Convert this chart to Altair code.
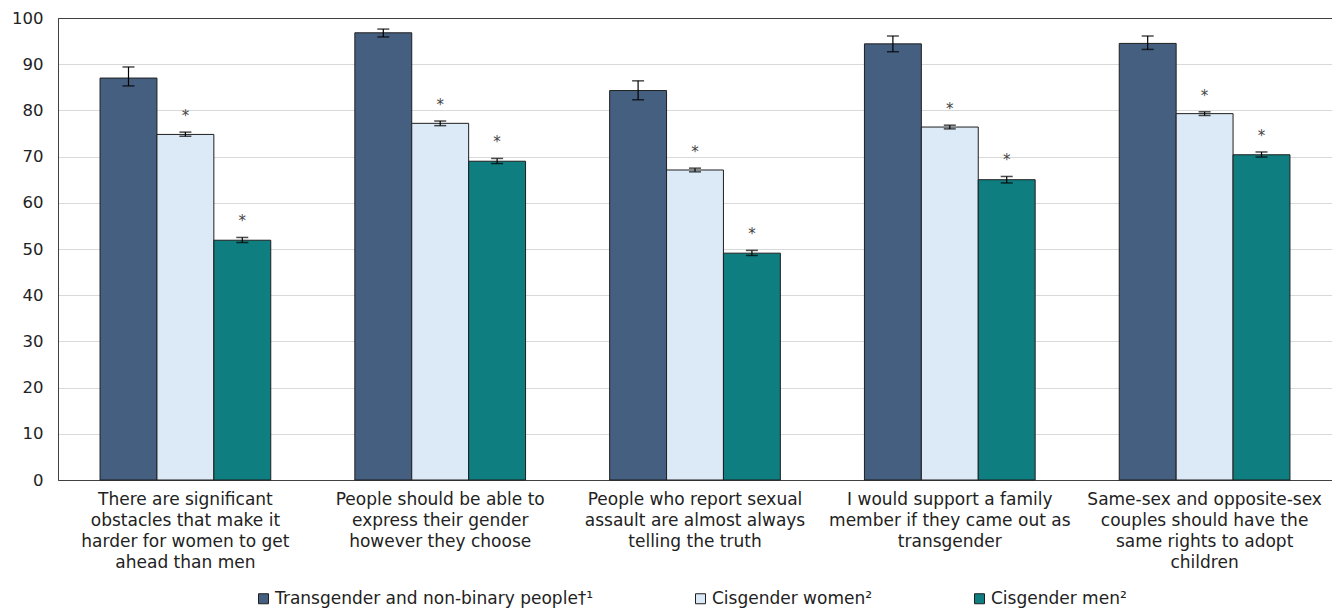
import altair as alt
import pandas as pd

categories = [
    "There are significant|obstacles that make it|harder for women to get|ahead than men",
    "People should be able to|express their gender|however they choose",
    "People who report sexual|assault are almost always|telling the truth",
    "I would support a family|member if they came out as|transgender",
    "Same-sex and opposite-sex|couples should have the|same rights to adopt|children",
]
groups = ["Transgender and non-binary people\u2020\u00b9", "Cisgender women\u00b2", "Cisgender men\u00b2"]
colors = ["#455f80", "#dce9f6", "#0f7e80"]

trans = [87.0, 96.8, 84.3, 94.4, 94.5]
trans_lo = [85.3, 95.9, 82.3, 92.7, 93.2]
trans_hi = [89.4, 97.6, 86.4, 96.1, 96.1]
women = [74.8, 77.2, 67.1, 76.4, 79.3]
women_lo = [74.4, 76.7, 66.7, 76.0, 78.9]
women_hi = [75.3, 77.7, 67.5, 76.8, 79.7]
men = [51.9, 69.0, 49.1, 65.0, 70.4]
men_lo = [51.4, 68.5, 48.6, 64.3, 69.9]
men_hi = [52.5, 69.6, 49.7, 65.7, 71.0]
significant = ["", "*", "*"]

rows = []
series = [(trans, trans_lo, trans_hi), (women, women_lo, women_hi), (men, men_lo, men_hi)]
for gi, (vals, los, his) in enumerate(series):
    for ci, cat in enumerate(categories):
        rows.append({"cat": cat, "group": groups[gi], "value": vals[ci],
                     "lo": los[ci], "hi": his[ci], "sig": significant[gi]})
df = pd.DataFrame(rows)

FONT = "DejaVu Sans"
FS = 17

x = alt.X("cat:N", sort=categories, title=None,
          scale=alt.Scale(paddingInner=0.33, paddingOuter=0.165),
          axis=alt.Axis(labelExpr="split(datum.value, '|')", labelAngle=0,
                        labelFontSize=FS, labelLineHeight=21, labelPadding=11,
                        ticks=False, domainColor="#404040", labelColor="#222222",
                        labelFont=FONT, labelLimit=400))
xo = alt.XOffset("group:N", sort=groups, scale=alt.Scale(paddingInner=0, paddingOuter=0))
yscale = alt.Scale(domain=[0, 100])

base = alt.Chart(df)

bars = base.mark_bar(stroke="#1f1f1f", strokeWidth=1).encode(
    x=x, xOffset=xo,
    y=alt.Y("value:Q", scale=yscale, title=None,
            axis=alt.Axis(values=list(range(0, 101, 10)), ticks=False, labelFontSize=16.5,
                          labelPadding=15, labelColor="#222222", labelFont=FONT,
                          domainColor="#404040",
                          gridColor={"condition": {"test": "datum.value === 100", "value": "#404040"},
                                     "value": "#d9d9d9"})),
    color=alt.Color("group:N", sort=groups, scale=alt.Scale(domain=groups, range=colors),
                    legend=alt.Legend(title=None, orient="none", direction="horizontal",
                                      legendX=197, legendY=572, symbolType="square",
                                      symbolSize=100, symbolStrokeColor="#1f1f1f",
                                      symbolStrokeWidth=1, labelFontSize=17, labelFont=FONT,
                                      labelColor="#222222", columnPadding=98, labelOffset=3,
                                      labelLimit=600)),
)

rules = base.mark_rule(color="#000000", strokeWidth=1.2).encode(
    x=x, xOffset=xo, y=alt.Y("lo:Q", scale=yscale), y2="hi:Q")
caps_lo = base.mark_tick(color="#000000", thickness=1.5, size=12).encode(
    x=x, xOffset=xo, y=alt.Y("lo:Q", scale=yscale))
caps_hi = base.mark_tick(color="#000000", thickness=1.5, size=12).encode(
    x=x, xOffset=xo, y=alt.Y("hi:Q", scale=yscale))
stars = base.mark_text(dy=-16, fontSize=15, font=FONT, color="#444444").encode(
    x=x, xOffset=xo, y=alt.Y("hi:Q", scale=yscale), text="sig:N")

chart = alt.layer(bars, rules, caps_lo, caps_hi, stars).properties(
    width=1274, height=462,
    autosize=alt.AutoSizeParams(type="none"),
    padding={"left": 58, "top": 18, "right": 0, "bottom": 128},
).configure_view(stroke="#404040", strokeWidth=1).configure_axis(gridWidth=1)

chart.save("out.html", embed_options={"renderer": "svg", "actions": False})
